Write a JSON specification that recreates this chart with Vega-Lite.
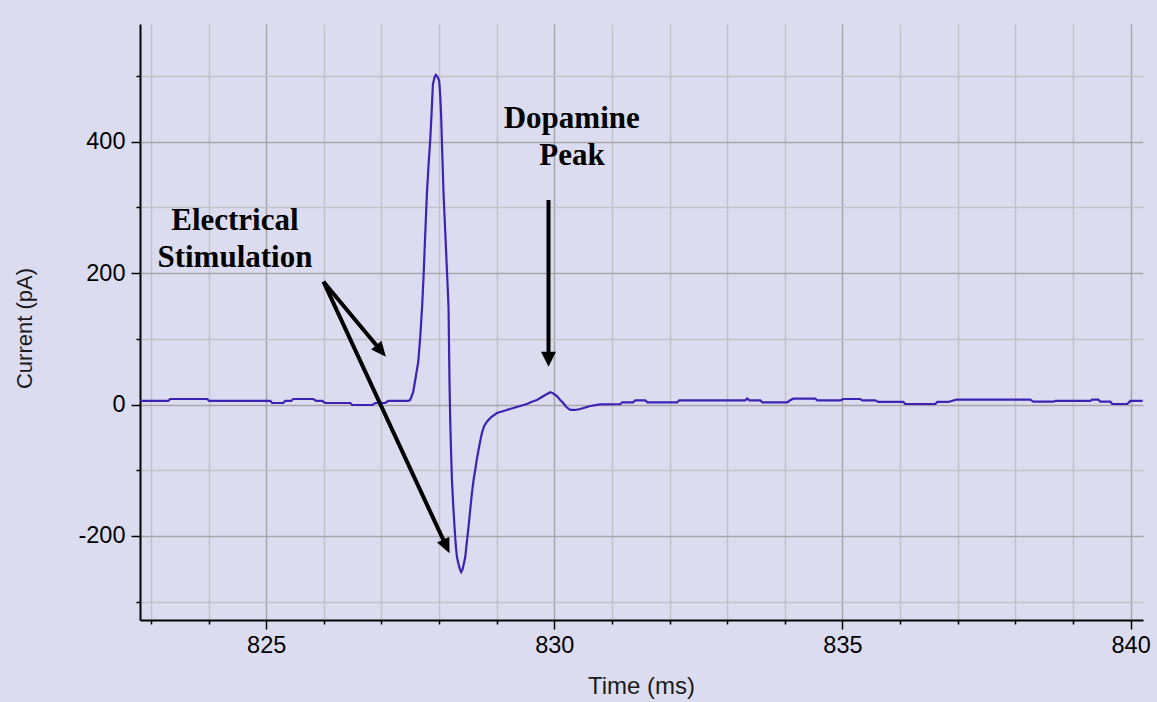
{
  "$schema": "https://vega.github.io/schema/vega-lite/v6.json",
  "width": 1003,
  "height": 596,
  "autosize": "none",
  "padding": {"left": 140, "top": 24, "right": 14, "bottom": 82},
  "background": "#dcdcf0",
  "config": {
    "view": {"stroke": null},
    "axis": {
      "domainColor": "#000000",
      "domainWidth": 2,
      "tickColor": "#000000",
      "tickWidth": 1.5,
      "gridWidth": 1.5,
      "labelFont": "Liberation Sans",
      "labelFontSize": 23.5,
      "labelColor": "#000000",
      "labelFlush": false,
      "labelOverlap": false,
      "titleFont": "Liberation Sans",
      "titleFontSize": 22,
      "titleFontWeight": "normal",
      "titleColor": "#1a1a1a"
    }
  },
  "datasets": {
    "trace": [
      {"t": 822.813, "i": 5.5}, {"t": 823.299, "i": 5.5}, {"t": 823.334, "i": 8.5}, {"t": 823.976, "i": 8.5},
      {"t": 824.011, "i": 5.5}, {"t": 825.069, "i": 5.5}, {"t": 825.104, "i": 2.4}, {"t": 825.295, "i": 2.4},
      {"t": 825.330, "i": 5.5}, {"t": 825.434, "i": 5.5}, {"t": 825.469, "i": 8.5}, {"t": 825.816, "i": 8.5},
      {"t": 825.868, "i": 5.5}, {"t": 825.972, "i": 5.5}, {"t": 826.024, "i": 2.4}, {"t": 826.458, "i": 2.4},
      {"t": 826.493, "i": -0.6}, {"t": 826.840, "i": -0.6}, {"t": 826.892, "i": 2.4}, {"t": 827.065, "i": 2.4},
      {"t": 827.117, "i": 5.5}, {"t": 827.464, "i": 5.5}, {"t": 827.499, "i": 7.0}, {"t": 827.551, "i": 19.2},
      {"t": 827.586, "i": 37.4}, {"t": 827.638, "i": 64.8}, {"t": 827.673, "i": 102.9}, {"t": 827.707, "i": 151.6},
      {"t": 827.730, "i": 194.2}, {"t": 827.759, "i": 258.1}, {"t": 827.789, "i": 321.5}, {"t": 827.820, "i": 368.7},
      {"t": 827.846, "i": 402.1}, {"t": 827.872, "i": 447.8}, {"t": 827.893, "i": 488.0}, {"t": 827.924, "i": 498.6},
      {"t": 827.945, "i": 501.7}, {"t": 827.976, "i": 498.6}, {"t": 828.002, "i": 492.5}, {"t": 828.020, "i": 469.7},
      {"t": 828.037, "i": 436.2}, {"t": 828.054, "i": 386.0}, {"t": 828.077, "i": 321.5}, {"t": 828.107, "i": 262.7},
      {"t": 828.136, "i": 204.9}, {"t": 828.164, "i": 148.6}, {"t": 828.181, "i": 32.9}, {"t": 828.193, "i": -23.4},
      {"t": 828.207, "i": -69.1}, {"t": 828.223, "i": -114.8}, {"t": 828.245, "i": -152.8}, {"t": 828.268, "i": -186.3},
      {"t": 828.289, "i": -213.7}, {"t": 828.310, "i": -232.0}, {"t": 828.341, "i": -244.2}, {"t": 828.367, "i": -251.8},
      {"t": 828.384, "i": -254.8}, {"t": 828.410, "i": -250.2}, {"t": 828.436, "i": -239.6}, {"t": 828.454, "i": -232.0},
      {"t": 828.480, "i": -210.7}, {"t": 828.511, "i": -186.3}, {"t": 828.540, "i": -160.4}, {"t": 828.570, "i": -134.6},
      {"t": 828.598, "i": -114.8}, {"t": 828.627, "i": -99.5}, {"t": 828.653, "i": -84.3}, {"t": 828.684, "i": -69.1},
      {"t": 828.714, "i": -55.4}, {"t": 828.743, "i": -43.2}, {"t": 828.783, "i": -32.6}, {"t": 828.830, "i": -26.0},
      {"t": 828.905, "i": -18.9}, {"t": 829.004, "i": -12.8}, {"t": 829.148, "i": -9.0}, {"t": 829.287, "i": -5.2},
      {"t": 829.408, "i": -2.1}, {"t": 829.524, "i": 0.9}, {"t": 829.599, "i": 4.0}, {"t": 829.698, "i": 7.0},
      {"t": 829.755, "i": 10.0}, {"t": 829.842, "i": 14.6}, {"t": 829.929, "i": 18.7}, {"t": 829.981, "i": 16.9},
      {"t": 830.045, "i": 13.1}, {"t": 830.102, "i": 7.0}, {"t": 830.154, "i": 2.4}, {"t": 830.207, "i": -3.7},
      {"t": 830.276, "i": -8.2}, {"t": 830.363, "i": -8.2}, {"t": 830.450, "i": -6.7}, {"t": 830.536, "i": -4.4},
      {"t": 830.623, "i": -2.1}, {"t": 830.797, "i": 0.2}, {"t": 831.144, "i": 0.5}, {"t": 831.178, "i": 3.5},
      {"t": 831.369, "i": 3.5}, {"t": 831.404, "i": 6.5}, {"t": 831.578, "i": 6.5}, {"t": 831.612, "i": 3.5},
      {"t": 832.133, "i": 3.5}, {"t": 832.168, "i": 6.5}, {"t": 833.313, "i": 6.5}, {"t": 833.348, "i": 9.3},
      {"t": 833.383, "i": 6.5}, {"t": 833.573, "i": 6.5}, {"t": 833.608, "i": 3.5}, {"t": 834.042, "i": 3.5},
      {"t": 834.094, "i": 6.5}, {"t": 834.146, "i": 9.0}, {"t": 834.528, "i": 9.0}, {"t": 834.563, "i": 6.5},
      {"t": 834.962, "i": 6.5}, {"t": 835.014, "i": 8.5}, {"t": 835.309, "i": 8.5}, {"t": 835.344, "i": 6.5},
      {"t": 835.569, "i": 6.5}, {"t": 835.621, "i": 4.0}, {"t": 836.055, "i": 4.0}, {"t": 836.090, "i": 0.9},
      {"t": 836.611, "i": 0.9}, {"t": 836.645, "i": 4.0}, {"t": 836.836, "i": 4.0}, {"t": 836.975, "i": 7.5},
      {"t": 838.259, "i": 7.5}, {"t": 838.311, "i": 4.4}, {"t": 838.659, "i": 4.4}, {"t": 838.693, "i": 5.5},
      {"t": 839.301, "i": 5.5}, {"t": 839.335, "i": 7.5}, {"t": 839.439, "i": 7.5}, {"t": 839.474, "i": 4.4},
      {"t": 839.648, "i": 4.4}, {"t": 839.682, "i": 0.9}, {"t": 839.943, "i": 0.9}, {"t": 839.995, "i": 5.5},
      {"t": 840.210, "i": 5.5}
    ],
    "notes": [
      {"t": 824.457, "i": 265.8, "text": "Electrical"},
      {"t": 824.457, "i": 209.9, "text": "Stimulation"},
      {"t": 830.302, "i": 420.5, "text": "Dopamine"},
      {"t": 830.305, "i": 364.7, "text": "Peak"}
    ],
    "arrows": [
      {"arrow": "stim-rise", "t0": 825.994, "i0": 187.1, "t1": 826.966, "i1": 84.6, "tt": 827.077, "it": 72.9},
      {"arrow": "stim-dip", "t0": 825.994, "i0": 187.1, "t1": 828.108, "i1": -212.5, "tt": 828.181, "it": -226.3},
      {"arrow": "dopamine", "t0": 829.899, "i0": 311.4, "t1": 829.899, "i1": 72.9, "tt": 829.899, "it": 57.7}
    ]
  },
  "layer": [
    {
      "data": {"name": "trace"},
      "mark": {"type": "line", "color": "#3d23b3", "strokeWidth": 2.2, "clip": true},
      "encoding": {
        "x": {
          "field": "t",
          "type": "quantitative",
          "title": "Time (ms)",
          "scale": {"domain": [822.81, 840.215], "nice": false, "zero": false},
          "axis": {
            "values": [823, 824, 825, 826, 827, 828, 829, 830, 831, 832, 833, 834, 835, 836, 837, 838, 839, 840],
            "labelExpr": "datum.value % 5 === 0 ? '' + datum.value : ''",
            "tickSize": {"condition": {"test": "datum.value % 5 === 0", "value": 9}, "value": 4},
            "gridColor": {"condition": {"test": "datum.value % 5 === 0", "value": "#a6a6aa"}, "value": "#c2c2c6"},
            "labelPadding": 4,
            "titleFontSize": 24,
            "titleX": 501,
            "titleY": 73,
            "titleAlign": "center",
            "titleBaseline": "alphabetic"
          }
        },
        "y": {
          "field": "i",
          "type": "quantitative",
          "title": "Current (pA)",
          "scale": {"domain": [-327.9, 579.3], "nice": false, "zero": false},
          "axis": {
            "values": [-300, -200, -100, 0, 100, 200, 300, 400, 500],
            "labelExpr": "datum.value % 200 === 0 ? '' + datum.value : ''",
            "tickSize": {"condition": {"test": "datum.value % 200 === 0", "value": 9}, "value": 4},
            "gridColor": {"condition": {"test": "datum.value % 200 === 0", "value": "#a6a6aa"}, "value": "#c2c2c6"},
            "labelPadding": 6,
            "titleAngle": 270,
            "titleX": -109,
            "titleY": 304,
            "titleAlign": "center",
            "titleBaseline": "alphabetic"
          }
        }
      }
    },
    {
      "data": {"name": "arrows"},
      "mark": {"type": "rule", "color": "#000000", "strokeWidth": 4},
      "encoding": {
        "x": {"field": "t0", "type": "quantitative", "title": "Time (ms)"},
        "y": {"field": "i0", "type": "quantitative", "title": "Current (pA)"},
        "x2": {"field": "t1"},
        "y2": {"field": "i1"}
      }
    },
    {
      "data": {"name": "arrows"},
      "transform": [{"filter": "datum.arrow === 'stim-rise'"}],
      "mark": {"type": "point", "shape": "M0,0 L-0.45,-1 L0.45,-1 Z", "size": 900, "filled": true, "color": "#000000", "opacity": 1, "strokeWidth": 0, "angle": 320.2},
      "encoding": {
        "x": {"field": "tt", "type": "quantitative", "title": "Time (ms)"},
        "y": {"field": "it", "type": "quantitative", "title": "Current (pA)"}
      }
    },
    {
      "data": {"name": "arrows"},
      "transform": [{"filter": "datum.arrow === 'stim-dip'"}],
      "mark": {"type": "point", "shape": "M0,0 L-0.45,-1 L0.45,-1 Z", "size": 900, "filled": true, "color": "#000000", "opacity": 1, "strokeWidth": 0, "angle": 335.1},
      "encoding": {
        "x": {"field": "tt", "type": "quantitative", "title": "Time (ms)"},
        "y": {"field": "it", "type": "quantitative", "title": "Current (pA)"}
      }
    },
    {
      "data": {"name": "arrows"},
      "transform": [{"filter": "datum.arrow === 'dopamine'"}],
      "mark": {"type": "point", "shape": "M0,0 L-0.5,-1 L0.5,-1 Z", "size": 900, "filled": true, "color": "#000000", "opacity": 1, "strokeWidth": 0, "angle": 0},
      "encoding": {
        "x": {"field": "tt", "type": "quantitative", "title": "Time (ms)"},
        "y": {"field": "it", "type": "quantitative", "title": "Current (pA)"}
      }
    },
    {
      "data": {"name": "notes"},
      "mark": {"type": "text", "font": "Liberation Serif", "fontWeight": "bold", "fontSize": 31, "align": "center", "baseline": "alphabetic", "color": "#000000"},
      "encoding": {
        "x": {"field": "t", "type": "quantitative", "title": "Time (ms)"},
        "y": {"field": "i", "type": "quantitative", "title": "Current (pA)"},
        "text": {"field": "text"}
      }
    }
  ]
}
